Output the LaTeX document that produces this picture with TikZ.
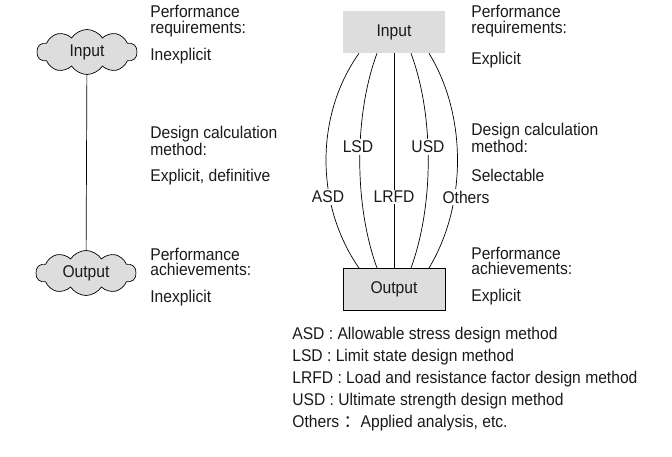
\documentclass[tikz,border=0pt]{standalone}
\usepackage{fontspec}
\setmainfont{Liberation Sans}[FakeStretch=0.92]
\newfontfamily\cjk{Noto Sans CJK SC}
\usetikzlibrary{shapes.symbols}
\definecolor{boxgray}{HTML}{DCDDDC}
\definecolor{ink}{HTML}{1A1A1A}

\begin{document}
\begin{tikzpicture}[x=1pt,y=-1pt,inner sep=0pt,line width=0.7pt,text=ink,
  font=\fontsize{17}{15.5}\selectfont,
  cloudbox/.style={cloud,cloud puffs=10,cloud puff arc=115,aspect=2.3,draw,fill=boxgray,minimum width=100pt,minimum height=45pt},
  flatbox/.style={fill=boxgray,minimum width=102pt,minimum height=42pt},
  note/.style={anchor=west,align=left},
  method/.style={fill=white,inner sep=1.5pt}]
  \useasboundingbox (0,0) rectangle (672,456);
  \node[cloudbox] (cin) at (87,52) {Input};
  \node[cloudbox] (cout) at (86,273) {Output};
  \draw (cin) -- (cout);
  \node[note] (lreq) at (150,21) {Performance\\requirements:};
  \node[note] (lreqv) at (150,56) {Inexplicit};
  \node[note] (lcalc) at (150,141) {Design calculation\\method:};
  \node[note] (lcalcv) at (150,177) {Explicit, definitive};
  \node[note] (lach) at (150,262) {Performance\\achievements:};
  \node[note] (lachv) at (150,298) {Inexplicit};
  \node[flatbox] (bin) at (394,32) {Input};
  \node[flatbox,draw,line width=1pt] (bout) at (394,289.5) {Output};
  \draw ([xshift=-35pt]bin.south) .. controls (315,115) and (315,205) .. ([xshift=-35pt]bout.north);
  \draw ([xshift=-17pt]bin.south) .. controls (354,115) and (354,205) .. ([xshift=-17pt]bout.north);
  \draw (bin.south) -- (bout.north);
  \draw ([xshift=17pt]bin.south) .. controls (434,115) and (434,205) .. ([xshift=17pt]bout.north);
  \draw ([xshift=35pt]bin.south) .. controls (467,115) and (467,205) .. ([xshift=35pt]bout.north);
  \node[method] (lsd) at (358,147) {LSD};
  \node[method] (usd) at (428,147) {USD};
  \node[method] (asd) at (328,197) {ASD};
  \node[method] (lrfd) at (394,197) {LRFD};
  \node[method] (oth) at (466,197) {Others};
  \node[note] (rreq) at (471,21) {Performance\\requirements:};
  \node[note] (rreqv) at (471,60) {Explicit};
  \node[note] (rcalc) at (471,138) {Design calculation\\method:};
  \node[note] (rcalcv) at (471,175) {Selectable};
  \node[note] (rach) at (471,261) {Performance\\achievements:};
  \node[note] (rachv) at (471,297) {Explicit};
  \node[note] (k1) at (292,335) {ASD : Allowable stress design method};
  \node[note] (k2) at (292,357) {LSD : Limit state design method};
  \node[note] (k3) at (292,379) {LRFD : Load and resistance factor design method};
  \node[note] (k4) at (292,401) {USD : Ultimate strength design method};
  \node[note] (k5) at (292,423) {Others {\cjk ：}Applied analysis, etc.};
\end{tikzpicture}
\end{document}
